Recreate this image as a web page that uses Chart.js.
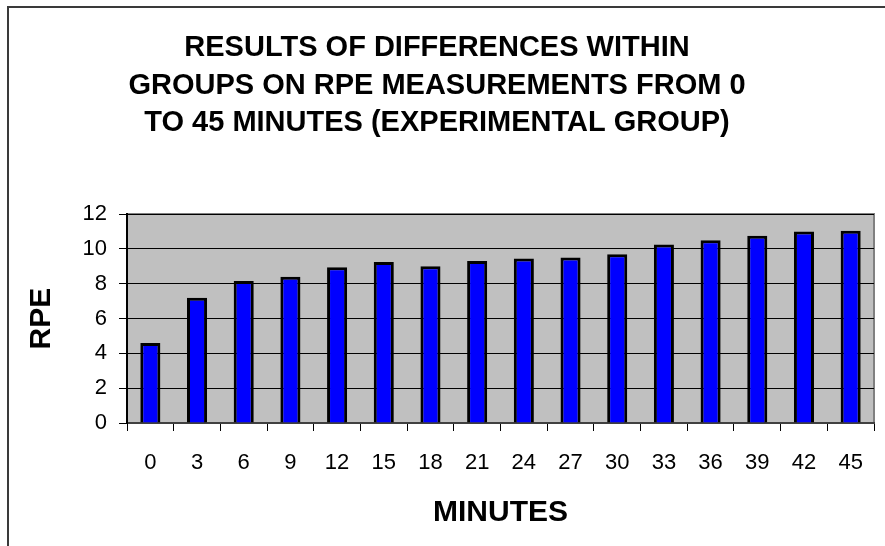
<!DOCTYPE html>
<html>
<head>
<meta charset="utf-8">
<title>RPE measurements – experimental group</title>
<script src="https://cdn.jsdelivr.net/npm/chart.js@4/dist/chart.umd.min.js"></script>
<style>
  html, body { margin: 0; padding: 0; background: #ffffff; }
  #wrap { position: relative; width: 885px; height: 546px; }
</style>
</head>
<body>
<div id="wrap"><canvas id="chart" width="885" height="546"></canvas></div>
<script>
// Minutes at which RPE was recorded
const minutes = ['0', '3', '6', '9', '12', '15', '18', '21', '24', '27', '30', '33', '36', '39', '42', '45'];
// Mean RPE of the experimental group at each time point
const rpeValues = [4.6, 7.2, 8.15, 8.4, 8.95, 9.25, 9.0, 9.3, 9.45, 9.5, 9.7, 10.25, 10.5, 10.75, 11.0, 11.05];
// Value axis ticks
const yMin = 0;
const yMax = 12;
const yStep = 2;

const titleLines = [
  'RESULTS OF DIFFERENCES WITHIN',
  'GROUPS ON RPE MEASUREMENTS FROM 0',
  'TO 45 MINUTES (EXPERIMENTAL GROUP)'
];

const FONT = "'Liberation Sans', Arial, Helvetica, sans-serif";

// Grey plot area with a thin grey frame, plus the outer chart frame
const backdrop = {
  id: 'backdrop',
  beforeDraw(chart) {
    const { ctx, chartArea: a } = chart;
    ctx.save();
    // outer frame (top and left edges)
    ctx.strokeStyle = '#3a3a3a';
    ctx.lineWidth = 2;
    ctx.beginPath();
    ctx.moveTo(885, 7);
    ctx.lineTo(8, 7);
    ctx.lineTo(8, 546);
    ctx.stroke();
    // plot area
    ctx.fillStyle = '#c0c0c0';
    ctx.fillRect(a.left, a.top, a.right - a.left, a.bottom - a.top);
    ctx.strokeStyle = '#808080';
    ctx.lineWidth = 2;
    ctx.beginPath();
    ctx.moveTo(a.left, a.top);
    ctx.lineTo(a.right, a.top);
    ctx.lineTo(a.right, a.bottom);
    ctx.stroke();
    ctx.restore();
  }
};

new Chart(document.getElementById('chart'), {
  type: 'bar',
  data: {
    labels: minutes,
    datasets: [{
      label: 'RPE',
      data: rpeValues,
      backgroundColor: '#0000ff',
      borderColor: '#000000',
      borderWidth: 3,
      borderSkipped: 'bottom',
      categoryPercentage: 1,
      barPercentage: 0.43
    }]
  },
  options: {
    responsive: false,
    animation: false,
    devicePixelRatio: 1,
    layout: { padding: { left: 0, right: 11, top: 0, bottom: 0 } },
    plugins: {
      legend: { display: false },
      tooltip: { enabled: false },
      title: {
        display: true,
        text: titleLines,
        color: '#000000',
        font: { family: FONT, size: 29, weight: 'bold', lineHeight: 1.3 },
        padding: { top: 29, bottom: 72 }
      }
    },
    scales: {
      x: {
        grid: {
          display: true,
          offset: true,
          drawOnChartArea: false,
          drawTicks: true,
          tickLength: 8,
          color: '#000000',
          lineWidth: 1
        },
        border: { display: true, color: '#404040', width: 2 },
        ticks: {
          color: '#000000',
          font: { family: FONT, size: 22 },
          padding: 19,
          maxRotation: 0,
          autoSkip: false
        },
        title: {
          display: true,
          text: 'MINUTES',
          color: '#000000',
          font: { family: FONT, size: 30, weight: 'bold', lineHeight: 1.2 },
          padding: { top: 0, bottom: 15 }
        },
        afterFit(scale) { scale.height = 123; }
      },
      y: {
        min: yMin,
        max: yMax,
        grid: {
          color: '#000000',
          lineWidth: 1,
          drawTicks: true,
          tickLength: 8
        },
        border: { display: true, color: '#000000', width: 2 },
        ticks: {
          stepSize: yStep,
          color: '#000000',
          font: { family: FONT, size: 22 },
          padding: 12
        },
        title: {
          display: true,
          text: 'RPE',
          color: '#000000',
          font: { family: FONT, size: 30, weight: 'bold', lineHeight: 1.2 },
          padding: { top: 24, bottom: 0 }
        },
        afterFit(scale) { scale.width = 127; }
      }
    }
  },
  plugins: [backdrop]
});
</script>
</body>
</html>
